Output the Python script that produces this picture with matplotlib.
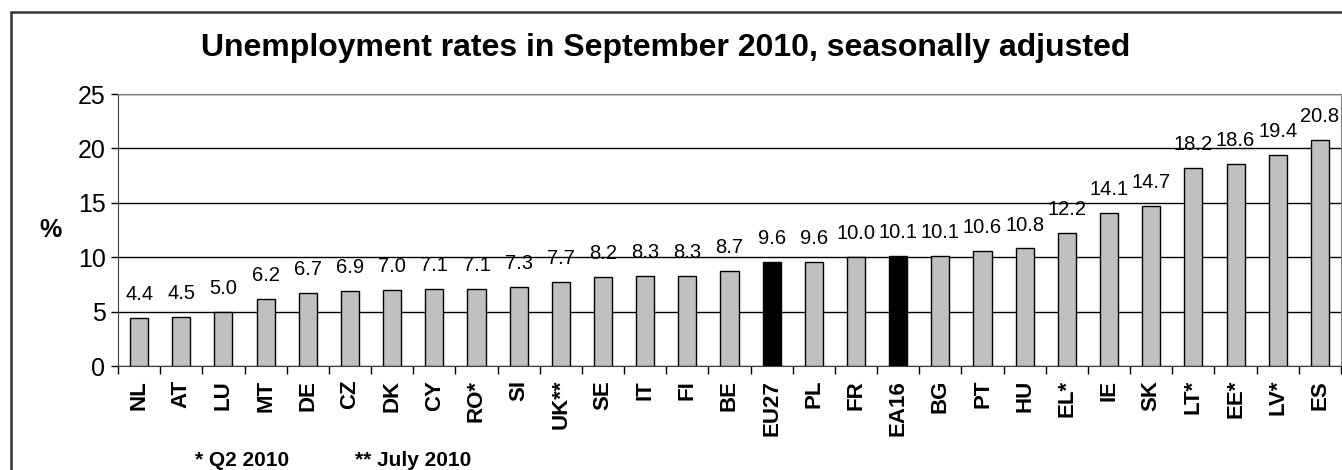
import matplotlib.pyplot as plt
from matplotlib.patches import Rectangle

plt.rcParams['font.family'] = ['Liberation Sans', 'DejaVu Sans']

countries = ['NL', 'AT', 'LU', 'MT', 'DE', 'CZ', 'DK', 'CY', 'RO*', 'SI', 'UK**', 'SE',
             'IT', 'FI', 'BE', 'EU27', 'PL', 'FR', 'EA16', 'BG', 'PT', 'HU', 'EL*', 'IE',
             'SK', 'LT*', 'EE*', 'LV*', 'ES']
rates = [4.4, 4.5, 5.0, 6.2, 6.7, 6.9, 7.0, 7.1, 7.1, 7.3, 7.7, 8.2,
         8.3, 8.3, 8.7, 9.6, 9.6, 10.0, 10.1, 10.1, 10.6, 10.8, 12.2, 14.1,
         14.7, 18.2, 18.6, 19.4, 20.8]
aggregates = ['EU27', 'EA16']

W, H = 1342, 470
fig = plt.figure(figsize=(W / 100, H / 100), dpi=100)
ax = fig.add_axes([118 / W, 1 - 366 / H, (1341 - 118) / W, (366 - 94) / H])

colors = ['black' if c in aggregates else '#c0c0c0' for c in countries]
x = list(range(len(countries)))
bars = ax.bar(x, rates, width=0.43, color=colors, edgecolor='black', linewidth=1, zorder=3)

for xi, v in zip(x, rates):
    ax.annotate(f'{v:.1f}', (xi, v), xytext=(0, 10), textcoords='offset points',
                ha='center', va='bottom', fontsize=14.5, zorder=4)

ax.set_xlim(-0.5, len(countries) - 0.5)
ax.set_ylim(0, 25)
ax.set_yticks([0, 5, 10, 15, 20, 25])
ax.yaxis.grid(True, color='black', linewidth=1, zorder=0)
ax.set_axisbelow(True)
ax.tick_params(axis='y', labelsize=18, length=5, width=1, pad=4)

ax.set_xticks([i + 0.5 for i in range(-1, len(countries))])
ax.set_xticklabels([])
ax.set_xticks(x, minor=True)
ax.set_xticklabels(countries, minor=True, rotation=90, fontsize=16, fontweight='bold')
ax.tick_params(axis='x', which='major', length=6, width=1, direction='out')
ax.tick_params(axis='x', which='minor', length=0, pad=10)

for side in ['top', 'right']:
    ax.spines[side].set_color('#808080')
ax.spines['left'].set_color('#404040')
ax.spines['bottom'].set_color('#404040')

ax.set_ylabel('%', rotation=0, fontsize=18, fontweight='bold', va='center', ha='center')
ax.yaxis.set_label_coords(-0.055, 0.50)

fig.text(666 / W, 1 - 48 / H, 'Unemployment rates in September 2010, seasonally adjusted',
         ha='center', va='center', fontsize=23, fontweight='bold')
fig.text(195 / W, 1 - 461 / H, '* Q2 2010', ha='left', va='center', fontsize=15, fontweight='bold')
fig.text(355 / W, 1 - 461 / H, '** July 2010', ha='left', va='center', fontsize=15, fontweight='bold')

fig.patches.append(Rectangle((11 / W, -0.2), 1.2, 1 - 12 / H + 0.2, transform=fig.transFigure,
                             fill=False, edgecolor='#333333', linewidth=1.8))

fig.savefig('out.png', dpi=100)
